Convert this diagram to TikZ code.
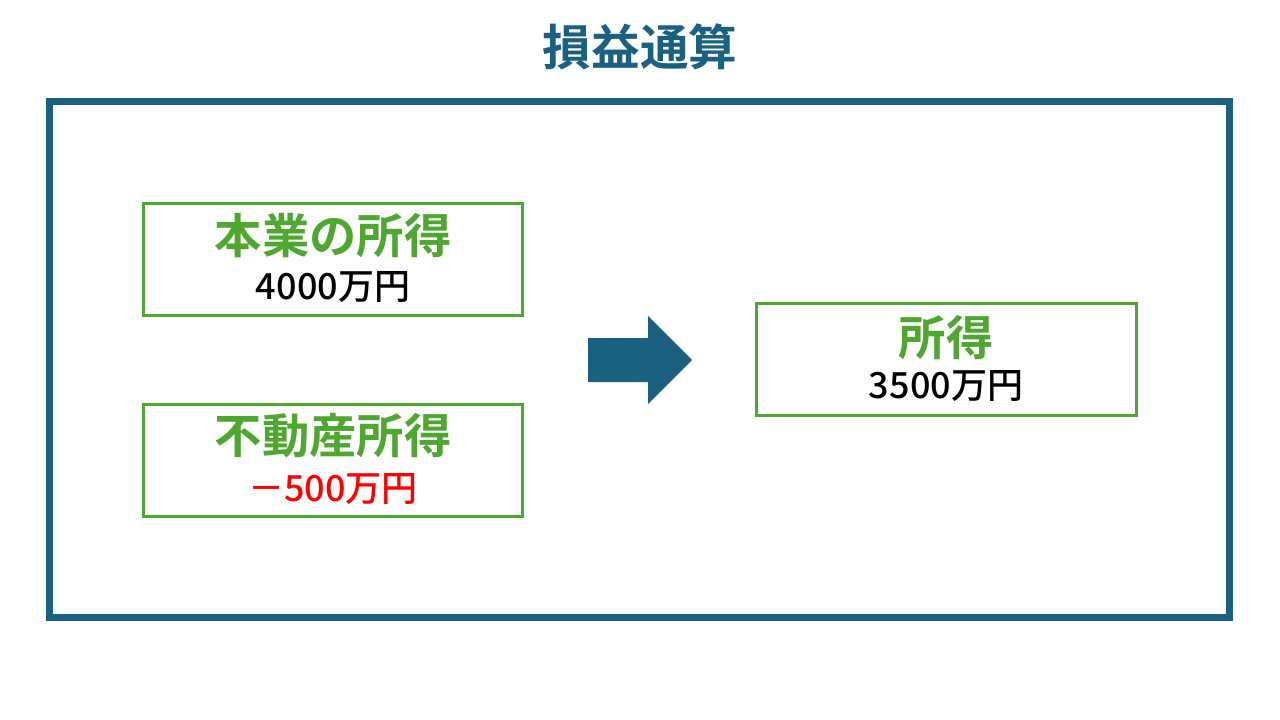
\documentclass[tikz,border=0pt]{standalone}
\usepackage{fontspec}
\newfontfamily\jpb{Noto Sans CJK JP Bold}
\newfontfamily\jpm{Noto Sans CJK JP Medium}
\definecolor{frameblue}{HTML}{1A6080}
\definecolor{boxgreen}{HTML}{4EA72E}
\definecolor{negred}{HTML}{FF0000}
\tikzset{
  px/.style={x=0.75pt,y=-0.75pt},
  itembox/.style={draw=boxgreen,line width=2.4pt,fill=white},
  headtext/.style={text=boxgreen,font=\jpb\fontsize{35.5}{40}\selectfont,inner sep=0pt,anchor=center},
  valtext/.style={text=black,font=\jpm\fontsize{27}{30}\selectfont,inner sep=0pt,anchor=center}
}
\begin{document}
\begin{tikzpicture}[px]
\useasboundingbox (0,0) rectangle (1280,720);
\fill[white] (0,0) rectangle (1280,720);
\node[text=frameblue,font=\jpb\fontsize{36.5}{40}\selectfont,inner sep=0pt] (title) at (640,47) {損益通算};
\draw[frameblue,line width=5.2pt] (49.5,101.5) rectangle (1229.5,617.5);
\draw[itembox] (143.5,203.5) rectangle (522.5,315.5);
\node[headtext] (h1) at (333,236) {本業の所得};
\node[valtext] (v1) at (333,287) {4000万円};
\draw[itembox] (143.5,404.5) rectangle (522.5,516.5);
\node[headtext] (h2) at (333,436) {不動産所得};
\node[valtext,text=negred] (v2) at (333,489) {－500万円};
\draw[itembox] (756.5,303.5) rectangle (1136.5,415.5);
\node[headtext] (h3) at (946,338) {所得};
\node[valtext] (v3) at (946,386) {3500万円};
\fill[frameblue] (588,338) -- (648,338) -- (648,316) -- (692,360) -- (648,404) -- (648,382) -- (588,382) -- cycle;
\end{tikzpicture}
\end{document}
